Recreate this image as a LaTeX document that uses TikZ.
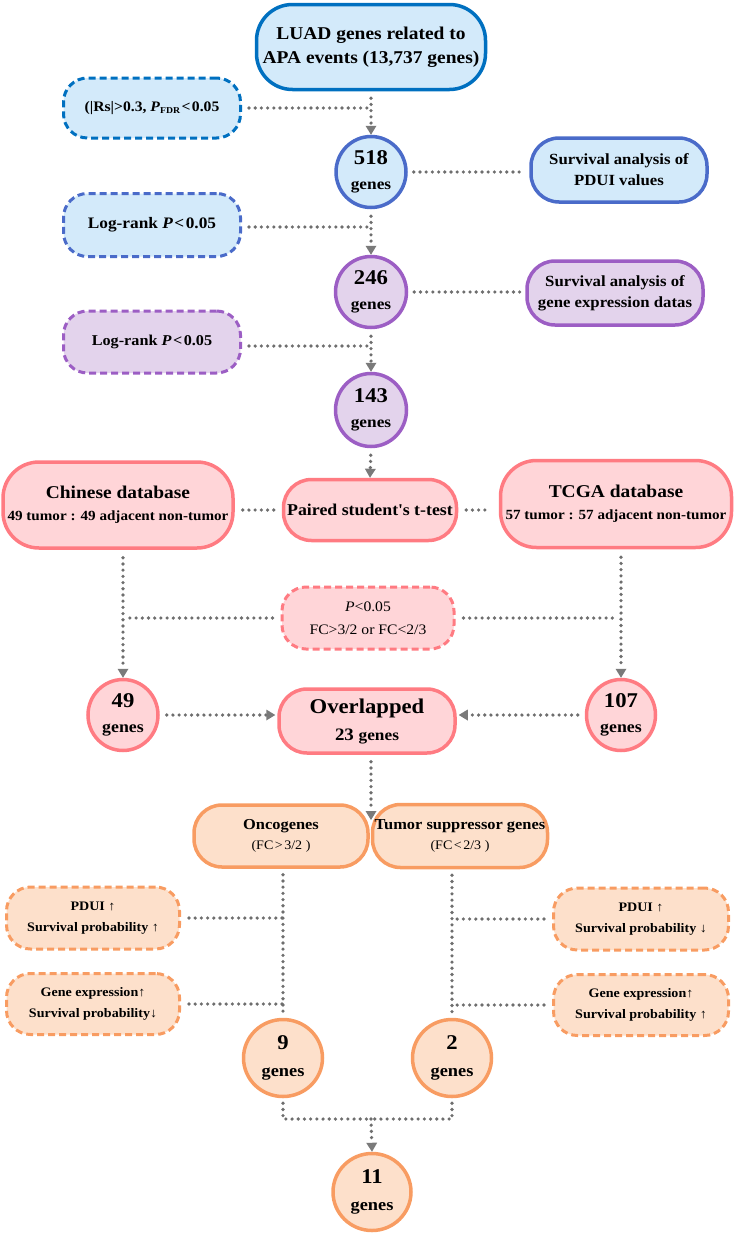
\documentclass[tikz,border=0pt]{standalone}
\usepackage{fontspec}
\setmainfont{Liberation Serif}[FakeStretch=1.08]
\usetikzlibrary{arrows.meta,shapes.geometric,calc}
\definecolor{bluefill}{HTML}{D3EAFA}
\definecolor{bluedark}{HTML}{0070C0}
\definecolor{bluemid}{HTML}{4A6BC9}
\definecolor{purfill}{HTML}{E3D3EC}
\definecolor{purline}{HTML}{9C5EC4}
\definecolor{pinkfill}{HTML}{FFD5D8}
\definecolor{pinkline}{HTML}{FF7B82}
\definecolor{orfill}{HTML}{FDE0CB}
\definecolor{orline}{HTML}{F89C62}
\definecolor{dotgray}{HTML}{6E6E6E}
\definecolor{tipgray}{HTML}{7A7A7A}
\newcommand\fsz[2]{\fontsize{#1}{#2}\selectfont}
\newcommand\wlt{\kern1.5pt<\kern1.5pt}
\newcommand\wgt{\kern1.5pt>\kern1.5pt}
\begin{document}
\begin{tikzpicture}[x=1pt,y=-1pt,
  every node/.style={align=center,inner sep=0pt},
  rbox/.style={rectangle,rounded corners=28pt,line width=3.5pt},
  bigbox/.style={rectangle,rounded corners=36pt,line width=3.5pt},
  dbox/.style={rectangle,rounded corners=24pt,line width=3pt,dash pattern=on 7pt off 4pt},
  circ/.style={ellipse,line width=3.5pt},
  cblue/.style={fill=bluefill,draw=bluemid},
  cdblue/.style={fill=bluefill,draw=bluedark},
  cpur/.style={fill=purfill,draw=purline},
  cpink/.style={fill=pinkfill,draw=pinkline},
  cor/.style={fill=orfill,draw=orline},
  dotc/.style={draw=dotgray,line width=3.6pt,line cap=round,dash pattern=on 0pt off 6.2pt},
  arr/.style={dotc,-{Triangle[width=11pt,length=9pt,line width=0pt,color=tipgray]}},
]
\useasboundingbox (0,0) rectangle (736,1234);

% ---------- top part ----------
\node[bigbox,cdblue,minimum width=229pt,minimum height=85pt,font=\bfseries\fsz{18}{24}] (luad) at (371,47)
  {LUAD genes related to\\APA events (13,737 genes)};
\node[dbox,cdblue,minimum width=177pt,minimum height=60pt,font=\bfseries\fsz{14.5}{18}] (f1) at (152,108)
  {(|Rs|>0.3, \textit{P}\raisebox{-0.3ex}{\fsz{9}{10}FDR}\wlt0.05};
\node[circ,cblue,minimum width=70pt,minimum height=71pt,font=\bfseries\fsz{16}{25}] (n518) at (371,172)
  {\fsz{21}{25}518\\genes};
\node[rbox,cblue,minimum width=176pt,minimum height=64pt,font=\bfseries\fsz{15.5}{21}] (s1) at (619,170)
  {Survival analysis of\\PDUI values};

\node[dbox,cblue,minimum width=177pt,minimum height=63pt,font=\bfseries\fsz{16}{18}] (f2) at (152,225)
  {Log-rank \textit{P}\wlt0.05};
\node[circ,cpur,minimum width=71pt,minimum height=71pt,font=\bfseries\fsz{16}{25}] (n246) at (371,292)
  {\fsz{21}{25}246\\genes};
\node[rbox,cpur,minimum width=176pt,minimum height=64pt,font=\bfseries\fsz{15.5}{21}] (s2) at (615,293)
  {Survival analysis of\\gene expression datas};

\node[dbox,cpur,minimum width=177pt,minimum height=62pt,font=\bfseries\fsz{15}{18}] (f3) at (152,342)
  {Log-rank \textit{P}\wlt0.05};
\node[circ,cpur,minimum width=71pt,minimum height=73pt,font=\bfseries\fsz{16}{25}] (n143) at (371,410)
  {\fsz{21}{25}143\\genes};

% ---------- databases ----------
\node[bigbox,cpink,minimum width=230pt,minimum height=86pt,font=\bfseries\fsz{14}{22}] (chn) at (118,505)
  {\fsz{18}{22}Chinese database\\49 tumor : 49 adjacent non-tumor};
\node[rbox,cpink,minimum width=173pt,minimum height=61pt,font=\bfseries\fsz{16.5}{20}] (pst) at (370,510)
  {Paired student\textquotesingle s t-test};
\node[bigbox,cpink,minimum width=231pt,minimum height=87pt,font=\bfseries\fsz{14}{22}] (tcga) at (616,504)
  {\fsz{18}{22}TCGA database\\57 tumor : 57 adjacent non-tumor};
\node[dbox,cpink,minimum width=172pt,minimum height=62pt,font=\fsz{14.5}{23}] (pfc) at (368,618)
  {\textit{P}<0.05\\FC>3/2 or FC<2/3};

\node[circ,cpink,minimum width=70pt,minimum height=71pt,font=\bfseries\fsz{16.5}{25}] (n49) at (123,715)
  {\fsz{21}{25}49\\genes};
\node[circ,cpink,minimum width=69pt,minimum height=71pt,font=\bfseries\fsz{16.5}{25}] (n107) at (621,715)
  {\fsz{21}{25}107\\genes};
\node[rbox,cpink,minimum width=176pt,minimum height=64pt,font=\bfseries\fsz{17.5}{27}] (ovl) at (367,721)
  {\fsz{21}{27}Overlapped\\23 \fsz{16}{27}genes};

% ---------- onco / suppressor ----------
\node[rbox,cor,minimum width=174pt,minimum height=62pt,font=\bfseries\fsz{13}{20}] (onc) at (281,836)
  {\fsz{15.2}{20}Oncogenes\\\mdseries(FC\wgt3/2 )};
\node[rbox,cor,minimum width=175pt,minimum height=63pt,font=\bfseries\fsz{13}{20}] (tsg) at (460,836)
  {\fsz{15.2}{20}Tumor suppressor genes\\\mdseries(FC\wlt2/3 )};

\node[dbox,cor,minimum width=173pt,minimum height=62pt,font=\bfseries\fsz{13}{21}] (pd1) at (93,918)
  {PDUI ↑\\Survival probability ↑};
\node[dbox,cor,minimum width=173pt,minimum height=61pt,font=\bfseries\fsz{13}{21}] (ge1) at (93,1004)
  {Gene expression↑\\Survival probability↓};
\node[dbox,cor,minimum width=175pt,minimum height=62pt,font=\bfseries\fsz{13}{21}] (pd2) at (641,919)
  {PDUI ↑\\Survival probability ↓};
\node[dbox,cor,minimum width=175pt,minimum height=61pt,font=\bfseries\fsz{13}{21}] (ge2) at (641,1005)
  {Gene expression↑\\Survival probability ↑};

\node[circ,cor,minimum width=79pt,minimum height=77pt,font=\bfseries\fsz{17}{27}] (n9) at (283,1058)
  {\fsz{21}{27}9\\genes};
\node[circ,cor,minimum width=79pt,minimum height=77pt,font=\bfseries\fsz{17}{27}] (n2) at (452,1058)
  {\fsz{21}{27}2\\genes};
\node[circ,cor,minimum width=78pt,minimum height=77pt,font=\bfseries\fsz{17}{27}] (n11) at (372,1192)
  {\fsz{21}{27}11\\genes};

\coordinate (j1) at (371,820);
\coordinate (j2) at (371,1119);

% ---------- connectors ----------
\draw[arr,shorten <=7pt] (luad.south) -- (n518.north);
\draw[dotc,shorten <=7pt] (f1.east) -- (f1.east -| luad.south);
\draw[dotc,shorten <=6pt,shorten >=5pt] (n518.east) -- (n518.east -| s1.west);

\draw[arr,shorten <=7pt] (n518.south) -- (n246.north);
\draw[dotc,shorten <=7pt] ($(f2.east)+(0,2)$) -- ($(f2.east -| n518.south)+(0,2)$);
\draw[dotc,shorten <=6pt,shorten >=5pt] (n246.east) -- (n246.east -| s2.west);

\draw[arr,shorten <=7pt] (n246.south) -- (n143.north);
\draw[dotc,shorten <=7pt] ($(f3.east)+(0,4)$) -- ($(f3.east -| n246.south)+(0,4)$);

\draw[arr,shorten <=7pt] (n143.south) -- (pst.north);
\draw[dotc,shorten <=8pt,shorten >=8pt] (pst.west -| chn.east) -- (pst.west);
\draw[dotc,shorten <=8pt,shorten >=8pt] (pst.east) -- (pst.east -| tcga.west);

\draw[arr,shorten <=8pt] (n49.north |- chn.south) -- (n49.north);
\draw[arr,shorten <=8pt] (n107.north |- tcga.south) -- (n107.north);
\draw[dotc,shorten <=8pt,shorten >=3pt] (pfc.west) -- (pfc.west -| n49.north);
\draw[dotc,shorten <=8pt,shorten >=3pt] (pfc.east) -- (pfc.east -| n107.north);

\draw[arr,shorten <=7pt,shorten >=2pt] (n49.east) -- (n49.east -| ovl.west);
\draw[arr,shorten <=7pt,shorten >=2pt] (n107.west) -- (n107.west -| ovl.east);
\draw[arr,shorten <=7pt] (ovl.south -| j1) -- (j1);

\draw[dotc,shorten <=6pt,shorten >=3pt] (n9.north |- onc.south) -- (n9.north);
\draw[dotc,shorten <=6pt,shorten >=3pt] (n2.north |- tsg.south) -- (n2.north);
\draw[dotc,shorten <=8pt] (pd1.east) -- (pd1.east -| n9.north);
\draw[dotc,shorten <=8pt] (ge1.east) -- (ge1.east -| n9.north);
\draw[dotc,shorten <=8pt] (pd2.west) -- (pd2.west -| n2.north);
\draw[dotc,shorten <=8pt] (ge2.west) -- (ge2.west -| n2.north);

\draw[dotc,shorten <=5pt] (n9.south) |- (j2);
\draw[dotc,shorten <=5pt] (n2.south) |- (j2);
\draw[arr] (j2) -- (n11.north);
\end{tikzpicture}
\end{document}
